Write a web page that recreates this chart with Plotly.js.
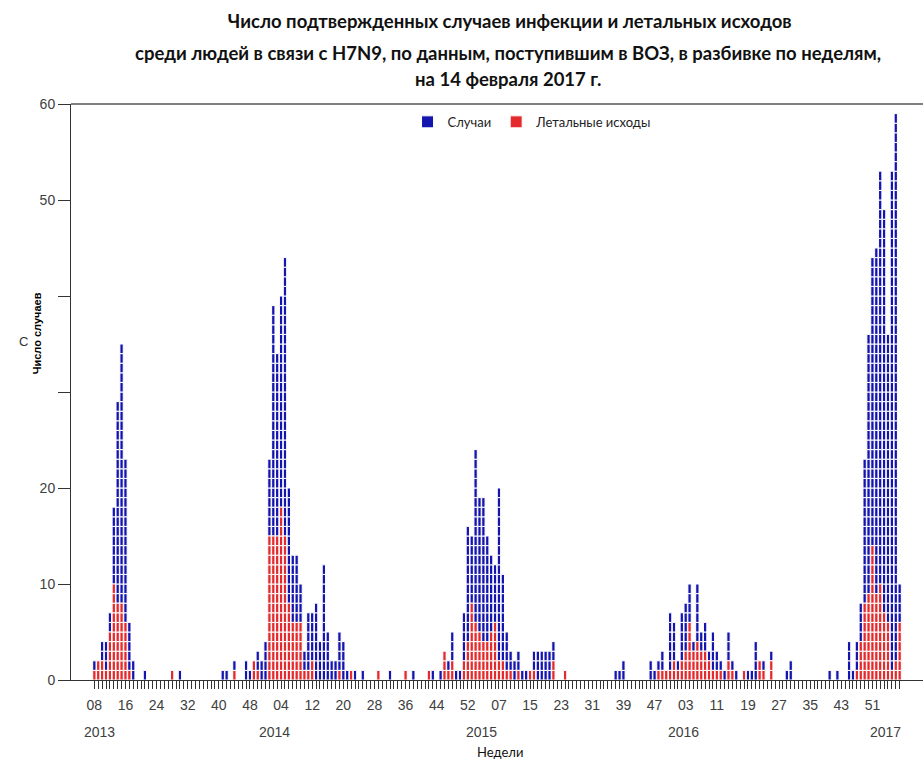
<!DOCTYPE html>
<html><head><meta charset="utf-8">
<script src="https://cdn.plot.ly/plotly-3.0.1.min.js"></script>
<style>html,body{margin:0;padding:0;background:#fff}#chart{width:923px;height:760px}</style>
</head><body><div id="chart"></div>
<script>
// Weekly confirmed H7N9 cases and deaths (2013 w08 ... 2017 w06)
const years = ['2013', '2014', '2015', '2016', '2017'];

const cases2013  = [2,2,4,4,7,18,29,35,23,6, 2,0,0,1,0,0,0,0,0,0, 1,0,1,0,0,0,0,0,0,0, 0,0,0,1,1,0,2,0,0,2, 1,2,3,2,4];
const deaths2013 = [1,2,2,1,5,10,8,8,6,1, 0,0,0,0,0,0,0,0,0,0, 1,0,0,0,0,0,0,0,0,0, 0,0,0,0,0,0,1,0,0,0, 0,2,1,0,0];

const cases2014  = [23,39,34,40,44,20,13,13,10,3, 7,7,8,4,12,5,2,2,5,4, 1,1,1,0,1,0,0,0,1,0, 0,1,0,0,0,1,0,1,0,0, 0,1,1,0,1,3,2,5,1,1, 7,16,15];
const deaths2014 = [15,15,15,18,15,8,6,6,6,1, 1,2,0,0,0,0,0,0,1,0, 0,1,0,0,0,0,0,0,1,0, 0,0,0,0,0,1,0,0,0,0, 0,1,0,0,0,3,1,2,0,0, 2,4,8];

const cases2015  = [24,19,19,15,13,12,20,11,5,3, 2,3,1,1,1,3,3,3,3,3, 4,0,0,1,0,0,0,0,0,0, 0,0,0,0,0,0,1,1,2,0, 0,0,0,0,0,2,1,2,3,1, 7,6];
const deaths2015 = [6,5,4,4,5,6,2,2,1,1, 0,1,0,0,1,1,0,0,0,0, 2,0,0,1,0,0,0,0,0,0, 0,0,0,0,0,0,0,0,0,0, 0,0,0,0,0,0,0,1,1,1, 1,2];

const cases2016  = [2,7,8,10,4,10,5,6,3,5, 3,2,1,5,2,1,0,1,1,1, 4,2,2,0,3,0,0,0,1,2, 0,0,0,0,0,0,0,0,0,1, 0,1,0,0,4,1,4,8,23,36, 44,45];
const deaths2016 = [1,2,3,6,3,4,3,3,2,1, 1,1,0,2,1,0,0,1,0,0, 0,2,1,0,2,0,0,0,0,0, 0,0,0,0,0,0,0,0,0,0, 0,0,0,0,0,0,1,4,8,9, 14,9];

const cases2017  = [53,49,36,53,59,10];
const deaths2017 = [10,7,6,1,2,6];

const weekTickLabels = ['08','16','24','32','40','48','04','12','20','28','36','44','52',
                        '07','15','23','31','39','47','03','11','19','27','35','43','51'];
const yTickValues = [0,10,20,30,40,50,60];
const yTickLabels = ['0','10','20','','','50','60'];

const BLUE = '#1414ae', RED = '#e42a2c';
const TICKFONT = {family: 'Liberation Sans, Arial, sans-serif', size: 14, color: '#404040'};
const TITLEFONT = 'Lato, "Open Sans", sans-serif';
const TITLESIZE = 18.5;

const casesByYear  = [cases2013, cases2014, cases2015, cases2016, cases2017];
const deathsByYear = [deaths2013, deaths2014, deaths2015, deaths2016, deaths2017];
const casesAll  = [].concat(...casesByYear);
const deathsAll = [].concat(...deathsByYear);

// start index of each year along the week axis
const yearStart = [];
let acc = 0;
casesByYear.forEach(a => { yearStart.push(acc); acc += a.length; });

// each case is drawn as one block stacked in its week column
const bx = [], bb = [], rx = [], rb = [];
casesAll.forEach((c, i) => {
  for (let k = 0; k < c; k++) {
    if (k < deathsAll[i]) { rx.push(i); rb.push(k); }
    else { bx.push(i); bb.push(k); }
  }
});

const traces = [
  {type: 'bar', name: 'Случаи', x: bx, y: bx.map(() => 1), base: bb,
   marker: {color: BLUE, line: {color: '#ffffff', width: 1}}, hoverinfo: 'x'},
  {type: 'bar', name: 'Летальные исходы', x: rx, y: rx.map(() => 1), base: rb,
   marker: {color: RED, line: {color: '#ffffff', width: 1}}, hoverinfo: 'x'}
];

const tickvals = casesAll.map((_, i) => i);
const ticktext = casesAll.map((_, i) => (i % 8 === 0 ? (weekTickLabels[i / 8] || '') : ''));

const annotations = [
  {xref: 'paper', yref: 'paper', x: 0.513, y: 1.0885, yanchor: 'middle', showarrow: false,
   text: '<b>среди людей в связи с H7N9, по данным, поступившим в ВОЗ, в разбивке по неделям,</b>',
   font: {family: TITLEFONT, size: TITLESIZE, color: '#111'}},
  {xref: 'paper', yref: 'paper', x: 0.513, y: 1.0434, yanchor: 'middle', showarrow: false,
   text: '<b>на 14 февраля 2017 г.</b>',
   font: {family: TITLEFONT, size: TITLESIZE, color: '#111'}},
  {xref: 'paper', yref: 'paper', x: 0, xshift: -34, y: 0.602, textangle: -90, showarrow: false,
   xanchor: 'center', yanchor: 'middle',
   text: '<b>Число случаев</b>', font: {family: '"Liberation Sans Narrow", "Liberation Sans", Arial, sans-serif', size: 11, color: '#000'}},
  {xref: 'paper', yref: 'paper', x: 0, xshift: -48, y: 0.587, showarrow: false,
   xanchor: 'center', yanchor: 'middle',
   text: 'С', font: {family: 'Liberation Sans, Arial, sans-serif', size: 13, color: '#333'}},
  {xref: 'paper', yref: 'paper', x: 0.503, y: -0.125, showarrow: false, yanchor: 'middle',
   text: 'Недели', font: {family: TITLEFONT, size: 13, color: '#111'}}
];
years.forEach((yr, j) => {
  annotations.push({xref: 'x', yref: 'paper', x: yearStart[j] + 1.4, y: -0.0903, showarrow: false,
    yanchor: 'middle', text: yr, font: TICKFONT});
});

const layout = {
  width: 923, height: 760,
  margin: {l: 71, r: 0, t: 104, b: 80},
  paper_bgcolor: '#fff', plot_bgcolor: '#fff',
  title: {text: '<b>Число подтвержденных случаев инфекции и летальных исходов</b>',
          x: 0.5523, xanchor: 'center', y: 0.972, yanchor: 'middle', yref: 'container',
          font: {family: TITLEFONT, size: TITLESIZE, color: '#111'}},
  barmode: 'overlay', bargap: 0.15,
  showlegend: true,
  legend: {orientation: 'h', x: 0.395, y: 0.995, xanchor: 'left', yanchor: 'top',
           font: {family: TITLEFONT, size: 13, color: '#222'}, bgcolor: 'rgba(0,0,0,0)',
           itemwidth: 30, traceorder: 'normal'},
  xaxis: {range: [-6, 213], tickmode: 'array', tickvals: tickvals, ticktext: ticktext,
          ticks: 'outside', ticklen: 8, tickwidth: 1, tickcolor: '#333',
          showline: true, linecolor: '#333', linewidth: 1, showgrid: false, zeroline: false,
          tickfont: TICKFONT, ticklabelstandoff: 4, fixedrange: true},
  yaxis: {range: [0, 60], tickmode: 'array', tickvals: yTickValues, ticktext: yTickLabels,
          ticks: 'outside', ticklen: 12, tickwidth: 1, tickcolor: '#333',
          showline: true, linecolor: '#333', linewidth: 1, showgrid: false, zeroline: false,
          tickfont: TICKFONT, fixedrange: true},
  shapes: [{type: 'line', xref: 'paper', yref: 'paper', x0: 0, x1: 1, y0: 1, y1: 1,
            line: {color: '#555', width: 1.5}}],
  annotations: annotations
};

Plotly.newPlot('chart', traces, layout, {displayModeBar: false, staticPlot: true});
</script>
</body></html>
